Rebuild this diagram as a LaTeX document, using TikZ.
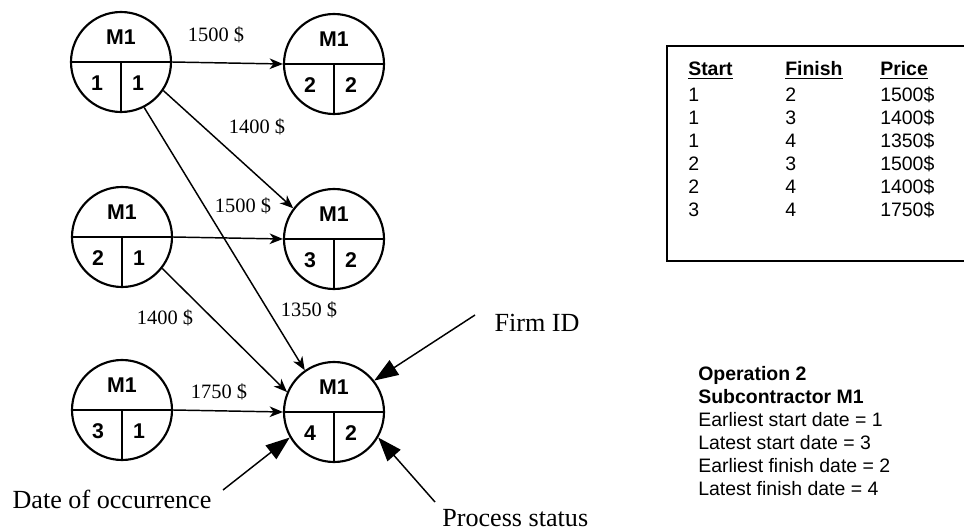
\documentclass[tikz,border=0pt]{standalone}
\usepackage{fontspec}
\setmainfont{Liberation Serif}
\newfontfamily\arial{Liberation Sans}
\usetikzlibrary{arrows.meta}
\newcommand\hdr[1]{\leavevmode\setbox0=\hbox{\textbf{#1}}\rlap{\rule[-3pt]{\wd0}{1.2pt}}\box0}
\tikzset{
  circ/.style={circle, draw, line width=1.6pt, minimum size=75pt, inner sep=0pt},
  inner/.style={line width=1.6pt},
  sanstxt/.style={font=\arial\bfseries\fontsize{16pt}{19pt}\selectfont, inner sep=0pt},
  lbl/.style={font=\fontsize{15.3pt}{18pt}\selectfont, inner sep=0pt},
  annlbl/.style={font=\fontsize{19.6pt}{23pt}\selectfont, inner sep=0pt},
  edge/.style={-{Stealth[length=10pt,width=8pt,inset=3pt]}, line width=1.1pt},
  ann/.style={-{Triangle[length=18pt,width=13pt]}, line width=1.1pt},
}
\begin{document}
\begin{tikzpicture}[x=0.75pt,y=-0.75pt]
\useasboundingbox (0,0) rectangle (964,531);
% circles
\foreach \n/\x/\y/\a/\b in {c1/121/62/1/1, c2/334/64/2/2, c3/122/237/2/1, c4/334/239/3/2, c5/122/410/3/1, c6/334/412/4/2} {
  \node[circ] (\n) at (\x,\y) {};
  \draw[inner] (\n.west) -- (\n.east) (\n.center) -- (\n.south);
  \node[sanstxt] (\n-m) at (\x,{\y-25}) {M1};
  \node[sanstxt] (\n-a) at ({\x-24},{\y+21}) {\a};
  \node[sanstxt] (\n-b) at ({\x+17},{\y+21}) {\b};
}
% connectors
\draw[edge] (c1.east) -- (c2.west);
\draw[edge] (c1.-34) -- (c4.143);
\draw[edge] (c1.-63) -- (c6.125);
\draw[edge] (c3.east) -- (c4.west);
\draw[edge] (c3.-38) -- (c6.157);
\draw[edge] (c5.east) -- (c6.west);
% edge labels
\node[lbl] (l12) at (216,35) {1500 \$};
\node[lbl] (l14) at (257,127) {1400 \$};
\node[lbl] (l34) at (243,206) {1500 \$};
\node[lbl] (l16) at (309,310) {1350 \$};
\node[lbl] (l36) at (165,318) {1400 \$};
\node[lbl] (l56) at (219,392) {1750 \$};
% annotations
\node[annlbl] (firm) at (537,323) {Firm ID};
\node[annlbl] (date) at (112,499) {Date of occurrence};
\node[annlbl, anchor=west] (proc) at (442,518) {Process status};
\coordinate (fa) at (475,315);
\coordinate (da) at (223,490);
\coordinate (pa) at (435,502);
\draw[ann] (fa) -- (c6.38);
\draw[ann] (da) -- (c6.210);
\draw[ann] (pa) -- (c6.-30);
% table
\draw[line width=1.3pt] (667,46) rectangle (980,261);
\node[anchor=base west, inner sep=0pt, font=\arial\fontsize{14.6pt}{17.25pt}\selectfont] (tab) at (688,75.5) {%
\begin{tabular}[t]{@{}p{72.75pt}@{}p{71.25pt}@{}l@{}}
\hdr{Start} & \hdr{Finish} & \hdr{Price}\\[2.25pt]
1 & 2 & 1500\$\\
1 & 3 & 1400\$\\
1 & 4 & 1350\$\\
2 & 3 & 1500\$\\
2 & 4 & 1400\$\\
3 & 4 & 1750\$
\end{tabular}};
% operation info
\node[anchor=base west, inner sep=0pt, font=\arial\fontsize{14.6pt}{17.25pt}\selectfont] (op) at (698,380) {%
\begin{tabular}[t]{@{}l@{}}
\textbf{Operation 2}\\
\textbf{Subcontractor M1}\\
Earliest start date = 1\\
Latest start date = 3\\
Earliest finish date = 2\\
Latest finish date = 4
\end{tabular}};
\end{tikzpicture}
\end{document}
